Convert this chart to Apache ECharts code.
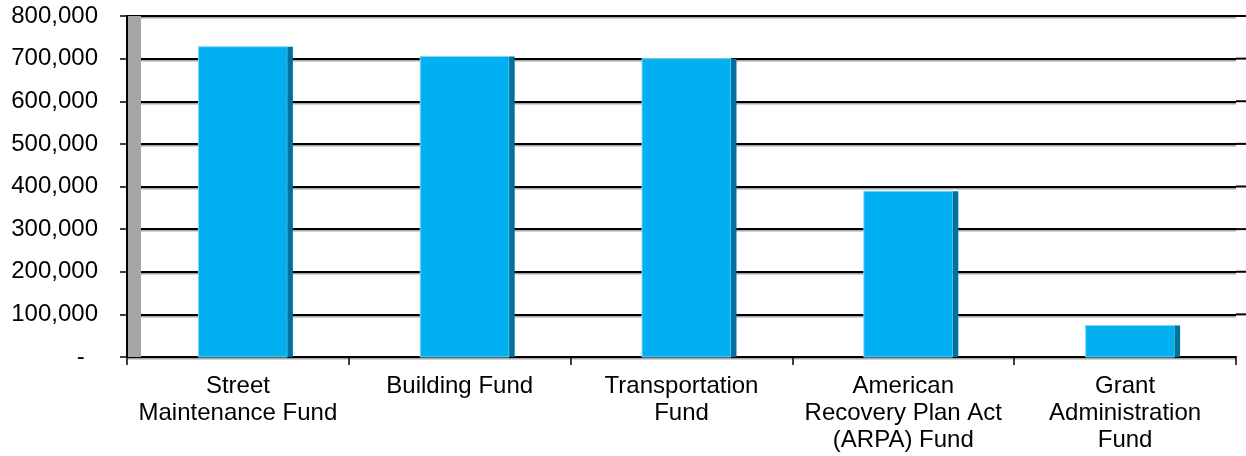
<!DOCTYPE html>
<html>
<head>
<meta charset="utf-8">
<script src="https://cdn.jsdelivr.net/npm/echarts@6/dist/echarts.min.js"></script>
<style>
html,body{margin:0;padding:0;background:#fff;}
#c{width:1246px;height:456px;}
</style>
</head>
<body>
<div id="c"></div>
<script>
const categories = ['Street\nMaintenance Fund', 'Building Fund', 'Transportation\nFund', 'American\nRecovery Plan Act\n(ARPA) Fund', 'Grant\nAdministration\nFund'];
const values = [728000, 705000, 700000, 389000, 74000];
const yTicks = { min: 0, max: 800000, interval: 100000 };

const FONT = 'Liberation Sans, Arial, sans-serif';
const chart = echarts.init(document.getElementById('c'), null, { renderer: 'canvas' });

const option = {
  animation: false,
  backgroundColor: '#fff',
  grid: { left: 127, right: 10, top: 16, bottom: 99, containLabel: false },
  xAxis: {
    type: 'category',
    data: categories,
    boundaryGap: true,
    axisLine: { show: true, lineStyle: { color: '#000', width: 2 } },
    axisTick: { show: true, length: 8, lineStyle: { color: '#000', width: 1.5 } },
    axisLabel: { color: '#000', fontSize: 24, fontFamily: FONT, lineHeight: 27, margin: 16, interval: 0 },
    splitLine: { show: false }
  },
  yAxis: {
    type: 'value',
    min: yTicks.min, max: yTicks.max, interval: yTicks.interval,
    axisLine: { show: true, lineStyle: { color: '#000', width: 2 } },
    axisTick: { show: true, length: 7, lineStyle: { color: '#000', width: 1.5 } },
    axisLabel: {
      color: '#000', fontSize: 24, fontFamily: FONT, margin: 29, padding: [5, 0, 0, 0],
      formatter: v => v === 0 ? '-  ' : v.toLocaleString('en-US')
    },
    splitLine: { show: true, lineStyle: { color: '#000', width: 2, shadowColor: 'rgba(0,0,0,0.35)', shadowOffsetY: 1.5, shadowBlur: 0 } }
  },
  series: [{
    type: 'custom',
    data: values.map((v, i) => [i, v]),
    encode: { x: 0, y: 1 },
    renderItem: function (params, api) {
      const pt = api.coord([api.value(0), api.value(1)]);
      const base = api.coord([api.value(0), 0]);
      const bw = api.size([1, 0])[0];
      const fl = pt[0] - 0.178 * bw;
      const fr = pt[0] + 0.223 * bw;
      const sr = pt[0] + 0.248 * bw;
      const h = base[1] - pt[1];
      return {
        type: 'group',
        children: [
          { type: 'rect', shape: { x: fl, y: pt[1], width: fr - fl, height: h },
            style: { fill: '#00B0F0', stroke: '#86D6F3', lineWidth: 1 } },
          { type: 'rect', shape: { x: fr, y: pt[1], width: sr - fr, height: h },
            style: { fill: '#00739C' } }
        ]
      };
    },
    z: 3
  }]
};
chart.setOption(option);

// decorative 3D wall and floor extensions computed from the axes
const yTop = chart.convertToPixel({ yAxisIndex: 0 }, yTicks.max);
const yBot = chart.convertToPixel({ yAxisIndex: 0 }, yTicks.min);
const c0 = chart.convertToPixel({ xAxisIndex: 0 }, 0);
const c1 = chart.convertToPixel({ xAxisIndex: 0 }, 1);
const band = c1 - c0;
const leftX = c0 - band / 2;
const rightX = chart.convertToPixel({ xAxisIndex: 0 }, categories.length - 1) + band / 2;
const graphics = [{
  type: 'rect', shape: { x: leftX + 1, y: yTop, width: 13, height: yBot - yTop },
  style: { fill: '#A6A6A6' }, z: 2
}];
for (let v = yTicks.min + yTicks.interval; v <= yTicks.max; v += yTicks.interval) {
  const y = chart.convertToPixel({ yAxisIndex: 0 }, v);
  graphics.push({ type: 'line', shape: { x1: rightX, y1: y, x2: 1246, y2: y }, style: { stroke: '#000', lineWidth: 2 }, z: 1 });
}
chart.setOption({ graphic: graphics });
</script>
</body>
</html>
